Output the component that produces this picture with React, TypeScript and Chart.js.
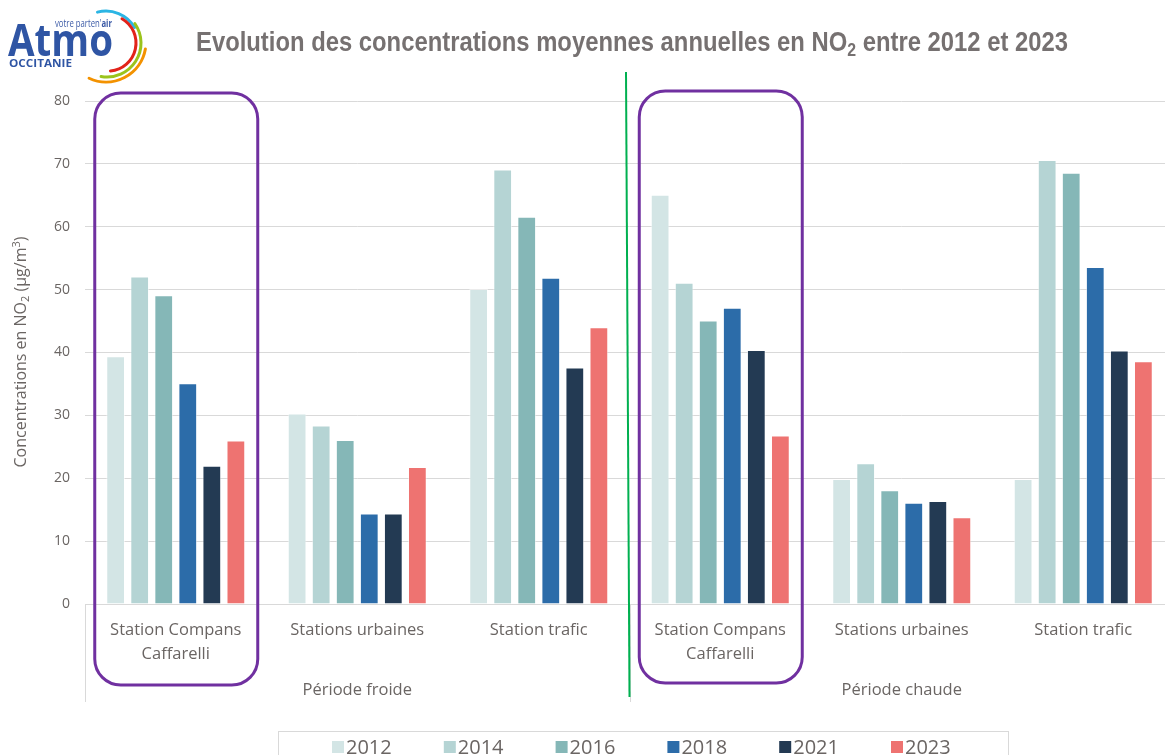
import React, { useEffect, useRef } from "react";
import { Chart, registerables } from "chart.js";
Chart.register(...registerables);

// ---------- data ----------
const categories: (string | string[])[] = [
  ["Station Compans", "Caffarelli"],
  "Stations urbaines",
  "Station trafic",
  ["Station Compans", "Caffarelli"],
  "Stations urbaines",
  "Station trafic",
];
const periods = ["Période froide", "Période chaude"];
const years = ["2012", "2014", "2016", "2018", "2021", "2023"];
const v2012 = [39.4, 30.3, 50.1, 65.1, 19.9, 19.9];
const v2014 = [52.1, 28.4, 69.1, 51.1, 22.4, 70.6];
const v2016 = [49.1, 26.1, 61.6, 45.1, 18.1, 68.6];
const v2018 = [35.1, 14.4, 51.9, 47.1, 16.1, 53.6];
const v2021 = [22.0, 14.4, 37.6, 40.4, 16.4, 40.3];
const v2023 = [26.0, 21.8, 44.0, 26.8, 13.8, 38.6];
const seriesValues = [v2012, v2014, v2016, v2018, v2021, v2023];
const seriesColors = ["#D3E5E5", "#B5D4D4", "#85B7B7", "#2C6CA9", "#233A53", "#EE7371"];
const yTicks = [0, 10, 20, 30, 40, 50, 60, 70, 80];
const highlighted = [0, 3];

const FONT = "'Open Sans', 'Noto Sans', sans-serif";
const TXT = "#6a6563";
const GRID = "#D9D9D9";

type Part = { t: string; font: string; dy?: number };

function drawParts(ctx: CanvasRenderingContext2D, parts: Part[], x: number, y: number, targetW?: number, center?: boolean) {
  let w = 0;
  parts.forEach((p) => {
    ctx.font = p.font;
    w += ctx.measureText(p.t).width;
  });
  const sx = targetW ? targetW / w : 1;
  ctx.save();
  ctx.translate(x, y);
  ctx.scale(sx, 1);
  let cx = center ? -w / 2 : 0;
  ctx.textAlign = "left";
  ctx.textBaseline = "alphabetic";
  parts.forEach((p) => {
    ctx.font = p.font;
    ctx.fillText(p.t, cx, p.dy || 0);
    cx += ctx.measureText(p.t).width;
  });
  ctx.restore();
}

const overlay = {
  id: "overlay",
  afterDraw(chart: any) {
    const ctx: CanvasRenderingContext2D = chart.ctx;
    const xs = chart.scales.x;
    const area = chart.chartArea;
    const catW = (area.right - area.left) / categories.length;
    ctx.save();

    // multi-level axis dividers
    ctx.strokeStyle = GRID;
    ctx.lineWidth = 1;
    [0, 3, 6].forEach((k) => {
      const px = Math.round(area.left + k * catW) + 0.5;
      ctx.beginPath();
      ctx.moveTo(px, area.bottom);
      ctx.lineTo(px, 702);
      ctx.stroke();
    });

    // period labels
    ctx.fillStyle = TXT;
    ctx.font = `16.5px ${FONT}`;
    ctx.textAlign = "center";
    ctx.textBaseline = "middle";
    periods.forEach((p, g) => {
      const c = (xs.getPixelForValue(g * 3) + xs.getPixelForValue(g * 3 + 2)) / 2;
      ctx.fillText(p, c, 690);
    });

    // green separator
    const bx = area.left + 3 * catW;
    ctx.strokeStyle = "#00B050";
    ctx.lineWidth = 2;
    ctx.beginPath();
    ctx.moveTo(bx - 3.5, 72);
    ctx.lineTo(bx, 697);
    ctx.stroke();

    // purple highlight boxes
    ctx.strokeStyle = "#7030A0";
    ctx.lineWidth = 3;
    highlighted.forEach((k, i) => {
      const c = xs.getPixelForValue(k);
      const top = i === 0 ? 93 : 91;
      ctx.beginPath();
      (ctx as any).roundRect(c - 81, top, 163, 592, 26);
      ctx.stroke();
    });

    // title
    ctx.fillStyle = "#767171";
    const tf = `bold 27px 'Liberation Sans', Arial, sans-serif`;
    const sf = `bold 18px 'Liberation Sans', Arial, sans-serif`;
    drawParts(
      ctx,
      [
        { t: "Evolution des concentrations moyennes annuelles en NO", font: tf },
        { t: "2", font: sf, dy: 5 },
        { t: " entre 2012 et 2023", font: tf },
      ],
      196,
      51,
      872
    );

    // y-axis title
    ctx.fillStyle = TXT;
    ctx.save();
    ctx.translate(20, 352);
    ctx.rotate(-Math.PI / 2);
    const yf = `16px ${FONT}`;
    const ysf = `11px ${FONT}`;
    drawParts(
      ctx,
      [
        { t: "Concentrations en NO", font: yf },
        { t: "2", font: ysf, dy: 3 },
        { t: " (µg/m", font: yf },
        { t: "3", font: ysf, dy: -6 },
        { t: ")", font: yf },
      ],
      0,
      6,
      undefined,
      true
    );
    ctx.restore();

    // legend
    ctx.strokeStyle = GRID;
    ctx.lineWidth = 1;
    ctx.strokeRect(278.5, 731.5, 730, 40);
    chart.data.datasets.forEach((ds: any, i: number) => {
      const lx = 332 + i * 111.8;
      ctx.fillStyle = ds.backgroundColor;
      ctx.fillRect(lx, 741, 12, 12);
      ctx.fillStyle = TXT;
      ctx.font = `20px ${FONT}`;
      ctx.textAlign = "left";
      ctx.textBaseline = "middle";
      ctx.fillText(ds.label, lx + 14, 748);
    });

    ctx.restore();
  },
};

function arcPath(cx: number, cy: number, r: number, a0: number, a1: number) {
  const rad = (d: number) => (d * Math.PI) / 180;
  const x0 = cx + r * Math.cos(rad(a0));
  const y0 = cy + r * Math.sin(rad(a0));
  const x1 = cx + r * Math.cos(rad(a1));
  const y1 = cy + r * Math.sin(rad(a1));
  const large = Math.abs(a1 - a0) > 180 ? 1 : 0;
  return `M${x0} ${y0} A${r} ${r} 0 ${large} 1 ${x1} ${y1}`;
}

function Logo() {
  return (
    <svg width={160} height={90} style={{ position: "absolute", left: 0, top: 0 }}>
      <path d={arcPath(106, 44, 33, -105, -30)} stroke="#2BB5E4" strokeWidth={3} fill="none" strokeLinecap="round" />
      <path d={arcPath(108, 43, 28, -60, 85)} stroke="#E2231A" strokeWidth={3} fill="none" strokeLinecap="round" />
      <path d={arcPath(107, 43, 34, -35, 100)} stroke="#9BC31C" strokeWidth={3} fill="none" strokeLinecap="round" />
      <path d={arcPath(106, 42, 40, 10, 115)} stroke="#F39200" strokeWidth={3} fill="none" strokeLinecap="round" />
      <text x={8} y={56} fill="#2F55A4" fontFamily="'Open Sans', sans-serif" fontWeight={700} fontSize={44} textLength={105} lengthAdjust="spacingAndGlyphs">
        Atmo
      </text>
      <text x={55} y={27} fill="#3B5AA6" fontFamily="'Open Sans', sans-serif" fontSize={10} textLength={57} lengthAdjust="spacingAndGlyphs">
        votre parten'<tspan fontWeight={700}>air</tspan>
      </text>
      <text x={9} y={67} fill="#2F55A4" fontFamily="'Open Sans', sans-serif" fontWeight={700} fontSize={11} textLength={63} lengthAdjust="spacingAndGlyphs">
        OCCITANIE
      </text>
    </svg>
  );
}

export default function App() {
  const ref = useRef<HTMLCanvasElement>(null);
  useEffect(() => {
    if (!ref.current) return;
    const chart = new Chart(ref.current, {
      type: "bar",
      data: {
        labels: categories as any,
        datasets: years.map((yr, i) => ({
          label: yr,
          data: seriesValues[i],
          backgroundColor: seriesColors[i],
          borderColor: "rgba(255,255,255,0.5)",
          borderWidth: 1,
          categoryPercentage: 0.795,
          barPercentage: 0.78,
        })),
      },
      options: {
        responsive: false,
        animation: false,
        devicePixelRatio: 1,
        layout: { padding: { top: 101, right: 1, left: 0, bottom: 0 } },
        plugins: {
          legend: { display: false },
          title: { display: false },
          tooltip: { enabled: false },
        },
        scales: {
          x: {
            grid: { display: false, drawTicks: false },
            border: { display: true, color: GRID },
            ticks: {
              color: TXT,
              font: { family: FONT, size: 16.5, lineHeight: 1.45 },
              padding: 14,
              maxRotation: 0,
              autoSkip: false,
            },
            afterFit: (s: any) => {
              s.height = 151;
            },
          },
          y: {
            min: yTicks[0],
            max: yTicks[yTicks.length - 1],
            ticks: { stepSize: 10, color: TXT, font: { family: FONT, size: 14 }, padding: 15 },
            grid: { color: GRID, drawTicks: false },
            border: { display: false },
            afterFit: (s: any) => {
              s.width = 85;
            },
          },
        },
      },
      plugins: [overlay],
    } as any);
    return () => chart.destroy();
  }, []);
  return (
    <div style={{ position: "absolute", left: 0, top: 0, width: 1165, height: 755, overflow: "hidden", background: "#fff" }}>
      <canvas ref={ref} width={1175} height={755} style={{ position: "absolute", left: 0, top: 0 }} />
      <Logo />
    </div>
  );
}
